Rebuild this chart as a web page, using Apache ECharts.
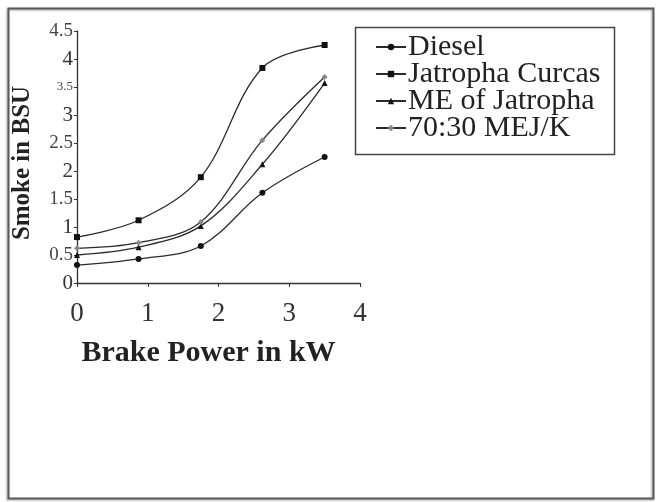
<!DOCTYPE html>
<html>
<head>
<meta charset="utf-8">
<script src="https://cdn.jsdelivr.net/npm/echarts@6/dist/echarts.min.js"></script>
<style>
html,body{margin:0;padding:0;background:#fff;}
#myChart{width:656px;height:502px;}
</style>
</head>
<body>
<div id="myChart"></div>
<script>
// brake power (kW) at each measured load
var power = [0, 0.87, 1.75, 2.62, 3.5];
var seriesNames = ['Diesel', 'Jatropha Curcas', 'ME of Jatropha', '70:30 MEJ/K'];
// smoke in BSU
var diesel = [0.32, 0.43, 0.66, 1.61, 2.25];
var jatropha = [0.82, 1.12, 1.89, 3.84, 4.25];
var meJatropha = [0.50, 0.64, 1.02, 2.12, 3.57];
var mejk = [0.62, 0.72, 1.09, 2.55, 3.68];
var xTicks = [0, 1, 2, 3, 4];
var yTicks = [0, 0.5, 1, 1.5, 2, 2.5, 3, 3.5, 4, 4.5];

function pairs(ys){
  var out = [];
  for (var i = 0; i < power.length; i++) out.push([power[i], ys[i]]);
  return out;
}

var serif = 'Liberation Serif';
var lineColor = '#2b2b2b';

function mkSeries(name, ys, symbol, color){
  return {
    name: name,
    type: 'line',
    smooth: 0.35,
    data: pairs(ys),
    symbol: symbol,
    symbolSize: 6,
    lineStyle: {color: lineColor, width: 1.3},
    itemStyle: {color: color},
    z: 3
  };
}

var option = {
  animation: false,
  backgroundColor: '#fff',
  grid: {left: 77, top: 31, right: 296, bottom: 219, containLabel: false, outerBoundsMode: 'none'},
  legend: {
    orient: 'vertical',
    left: 375,
    top: 32,
    itemWidth: 30,
    itemHeight: 8,
    itemGap: -3,
    padding: 0,
    data: seriesNames,
    textStyle: {fontFamily: serif, fontSize: 30, color: '#222', lineHeight: 25, padding: [0, 0, 0, -3]}
  },
  xAxis: {
    type: 'value',
    min: xTicks[0],
    max: xTicks[xTicks.length - 1],
    interval: 1,
    name: 'Brake Power in kW',
    nameLocation: 'middle',
    nameGap: 55,
    nameTextStyle: {fontFamily: serif, fontWeight: 'bold', fontSize: 30, color: '#222', padding: [0, 20, 0, 0]},
    axisLine: {lineStyle: {color: '#333', width: 1.3}},
    axisTick: {show: true, length: 4, lineStyle: {color: '#333'}},
    splitLine: {show: false},
    axisLabel: {fontFamily: serif, fontSize: 27, color: '#333', margin: 17}
  },
  yAxis: {
    type: 'value',
    min: yTicks[0],
    max: yTicks[yTicks.length - 1],
    interval: 0.5,
    name: 'Smoke in BSU',
    nameLocation: 'middle',
    nameGap: 42,
    nameRotate: 90,
    nameTextStyle: {fontFamily: serif, fontWeight: 'bold', fontSize: 25, color: '#222', padding: [0, 12, 0, 0]},
    axisLine: {show: true, lineStyle: {color: '#333', width: 1.3}},
    axisTick: {show: true, length: 3, lineStyle: {color: '#333'}},
    splitLine: {show: false},
    axisLabel: {
      fontFamily: serif, color: '#333', margin: 4,
      formatter: function(v){
        if (v === 3.5) return '{s|' + v + '}';
        if (v % 1 !== 0) return '{m|' + v + '}';
        return '{b|' + v + '}';
      },
      rich: {
        b: {fontFamily: serif, fontSize: 21, color: '#333'},
        m: {fontFamily: serif, fontSize: 19, color: '#444'},
        s: {fontFamily: serif, fontSize: 13, color: '#444'}
      }
    }
  },
  graphic: [
    {type: 'rect', shape: {x: 8.5, y: 8.5, width: 645, height: 490}, style: {fill: 'none', stroke: '#5a5a5a', lineWidth: 2, shadowColor: 'rgba(0,0,0,0.35)', shadowBlur: 2, shadowOffsetX: -1, shadowOffsetY: 1}, z: 0},
    {type: 'rect', shape: {x: 355.5, y: 27.5, width: 259, height: 127}, style: {fill: 'none', stroke: '#444', lineWidth: 1.5}, z: 0}
  ],
  series: [
    mkSeries(seriesNames[0], diesel, 'circle', '#111'),
    mkSeries(seriesNames[1], jatropha, 'rect', '#111'),
    mkSeries(seriesNames[2], meJatropha, 'triangle', '#111'),
    mkSeries(seriesNames[3], mejk, 'diamond', '#888')
  ]
};

var myChart = echarts.init(document.getElementById('myChart'));
myChart.setOption(option);
</script>
</body>
</html>
